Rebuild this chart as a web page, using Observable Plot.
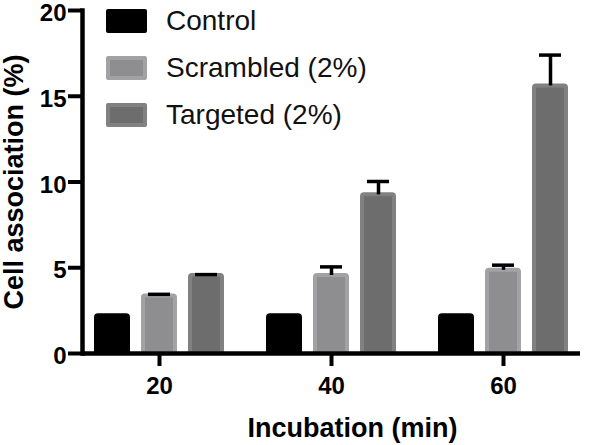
<!DOCTYPE html>
<html>
<head>
<meta charset="utf-8">
<script src="https://cdn.jsdelivr.net/npm/d3@7"></script>
<script src="https://cdn.jsdelivr.net/npm/@observablehq/plot@0.6"></script>
<style>
  html, body { margin: 0; padding: 0; background: #fff; }
  #wrap { position: relative; width: 600px; height: 445px; font-family: "Liberation Sans", Arial, sans-serif; }
  #legend { position: absolute; left: 106px; top: 9px; }
  .item { display: flex; align-items: center; height: 24px; margin-bottom: 23px; }
  .sw { width: 41px; height: 24px; box-sizing: border-box; border-radius: 2px; }
  .lab { margin-left: 19px; font-size: 28px; color: #111; white-space: nowrap; }
</style>
</head>
<body>
<div id="wrap"><div id="legend"></div></div>
<script>
// Data
const times = [20, 40, 60];
const series = ["Control", "Scrambled (2%)", "Targeted (2%)"];
const control = [2.2, 2.2, 2.2];
const controlErr = [0, 0, 0];
const scrambled = [3.35, 4.55, 4.85];
const scrambledErr = [0.1, 0.5, 0.3];
const targeted = [4.55, 9.25, 15.6];
const targetedErr = [0.05, 0.78, 1.8];
const yTicks = [0, 5, 10, 15, 20];

const fills = ["#000000", "#8e8e91", "#6d6d6d"];
const strokes = ["#000000", "#a2a2a4", "#818181"];
const offsets = [-47, 0, 47];

const values = [control, scrambled, targeted];
const errs = [controlErr, scrambledErr, targetedErr];

const marks = [];
series.forEach((s, si) => {
  const rows = times.map((t, i) => ({time: String(t), series: s, value: values[si][i], err: errs[si][i]}));
  marks.push(Plot.barY(rows, {
    x: "time", y: "value", dx: offsets[si],
    insetLeft: 54, insetRight: 54,
    fill: fills[si], stroke: strokes[si], strokeWidth: 4, rx: 2
  }));
  const withErr = rows.filter(d => d.err > 0);
  marks.push(Plot.ruleX(withErr, {
    x: "time", y1: "value", y2: d => d.value + d.err, dx: offsets[si],
    stroke: "#000", strokeWidth: 3.5
  }));
  marks.push(Plot.tickY(withErr, {
    x: "time", y: d => d.value + d.err, dx: offsets[si],
    insetLeft: 59, insetRight: 59, stroke: "#000", strokeWidth: 3.5
  }));
});

const chart = Plot.plot({
  width: 600,
  height: 445,
  marginLeft: 82,
  marginRight: 20,
  marginTop: 10,
  marginBottom: 92,
  style: {fontFamily: "'Liberation Sans', Arial, sans-serif", background: "#fff", color: "#000", overflow: "visible"},
  x: {type: "band", domain: times.map(String), paddingInner: 0.186, paddingOuter: 0.04},
  y: {domain: [0, 20]},
  marks: [
    ...marks,
    Plot.ruleY([0], {stroke: "#000", strokeWidth: 4.5}),
    Plot.frame({anchor: "left", stroke: "#000", strokeWidth: 4.5}),
    Plot.axisY({ticks: yTicks, tickSize: 14, strokeWidth: 4, text: null, label: null}),
    Plot.axisY({ticks: yTicks, tickSize: 0, tickPadding: 16, dy: 3, fontSize: 24, fontWeight: "bold", label: null}),
    Plot.axisX({tickSize: 13, tickPadding: 10, strokeWidth: 4, fontSize: 24, fontWeight: "bold", label: null}),
    Plot.text(["Incubation (min)"], {frameAnchor: "bottom", dy: 83, dx: 21, text: d => d, fontSize: 27, fontWeight: "bold"}),
    Plot.text(["Cell association (%)"], {frameAnchor: "left", textAnchor: "middle", dx: -68, rotate: -90, text: d => d, fontSize: 27, fontWeight: "bold"})
  ]
});
document.getElementById("wrap").prepend(chart);

const legend = document.getElementById("legend");
series.forEach((s, i) => {
  const item = document.createElement("div");
  item.className = "item";
  const sw = document.createElement("div");
  sw.className = "sw";
  sw.style.background = fills[i];
  sw.style.border = `4px solid ${strokes[i]}`;
  const lab = document.createElement("span");
  lab.className = "lab";
  lab.textContent = s;
  item.append(sw, lab);
  legend.append(item);
});
</script>
</body>
</html>
